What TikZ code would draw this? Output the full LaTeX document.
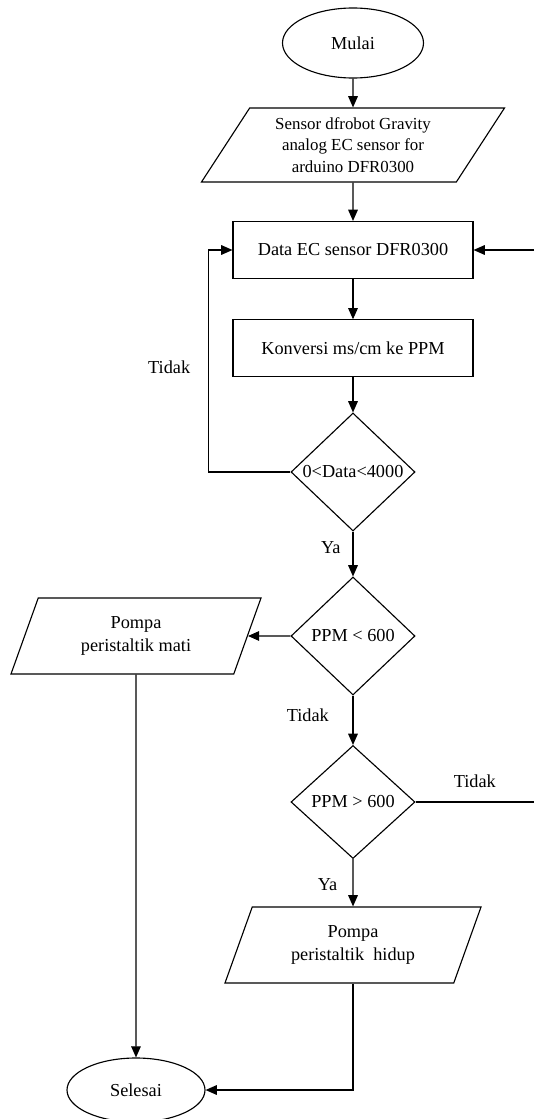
\documentclass[tikz,border=0pt]{standalone}
\usepackage{fontspec}
\setmainfont{Liberation Serif}
\usetikzlibrary{shapes.geometric, arrows.meta, positioning}

\begin{document}
\begin{tikzpicture}[thick, >={Triangle[length=2.8mm, width=2.4mm]},
    font=\fontsize{13}{16}\selectfont,
    term/.style = {draw, ellipse, inner sep=0pt},
    io/.style = {draw, trapezium, trapezium left angle=56.5, trapezium right angle=123.5, trapezium stretches body, align=center, inner sep=1pt},
    proc/.style = {draw, rectangle, minimum width=60mm, minimum height=14.25mm},
    dec/.style = {draw, diamond, inner sep=0pt, minimum width=31mm, minimum height=29.5mm}]
    \useasboundingbox (-88.25mm,10.75mm) rectangle (45.25mm,-269mm);
    \node[term, minimum width=35.25mm, minimum height=17.5mm] (1) {Mulai};
    \node[io, trapezium left angle=50.5, trapezium right angle=129.5, minimum width=75.75mm, minimum height=18.5mm, font=\fontsize{12}{15.5}\selectfont] (2) [below of=1, node distance=25.5mm] {Sensor dfrobot Gravity\\ analog EC sensor for\\ arduino DFR0300};
    \node[proc] (3) [below of=2, node distance=26.25mm] {Data EC sensor DFR0300};
    \node[proc] (4) [below of=3, node distance=24.6mm] {Konversi ms/cm ke PPM};
    \node[dec] (5) [below of=4, node distance=30.9mm] {0<Data<4000};
    \node[dec] (6) [below of=5, node distance=41mm] {PPM < 600};
    \node[io, minimum width=62.5mm, minimum height=19mm] (7) [left of=6, node distance=54.25mm] {Pompa\\ peristaltik mati};
    \node[dec, minimum height=28.25mm] (8) [below of=6, node distance=41.5mm] {PPM > 600};
    \node[io, minimum width=64mm, minimum height=19mm] (9) [below of=8, node distance=35.75mm] {Pompa\\ peristaltik\ \ hidup};
    \node[term, minimum width=34.5mm, minimum height=16mm] (10) [below of=7, node distance=113.5mm] {Selesai};
    % loop back from the right edge
    \coordinate (e1) at (45.25mm,0);
    \coordinate (r1) at (8 -| e1);
    \coordinate (r2) at (3 -| e1);
    \draw[->] (1) -- (2);
    \draw[->] (2) -- (3);
    \draw[->] (3) -- (4);
    \draw[->] (4) -- (5);
    \draw[->] (5.west) -- ++(-20.5mm,0) |- node[pos=0.236, left, xshift=-3.25mm] {Tidak} (3.west);
    \draw[->] (5) -- node[pos=0.36, left, xshift=-1.8mm] {Ya} (6);
    \draw[->] (6) -- (7);
    \draw[->] (6) -- node[pos=0.4, left, xshift=-4.75mm] {Tidak} (8);
    \draw (8) -- node[midway, above, yshift=2.15mm] {Tidak} (r1);
    \draw[->] (r2) -- (3);
    \draw[->] (8) -- node[pos=0.53, left, xshift=-2.6mm] {Ya} (9);
    \draw[->] (7) -- (10);
    \draw[->] (9) |- (10);
\end{tikzpicture}
\end{document}
